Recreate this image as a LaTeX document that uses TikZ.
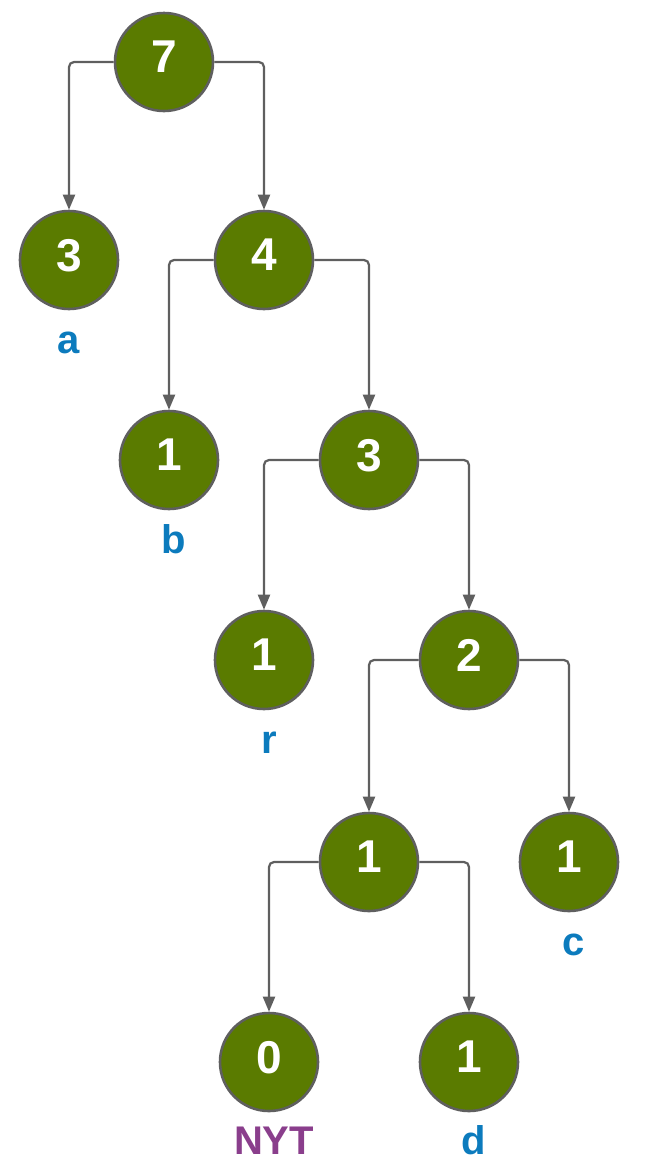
\documentclass[tikz,border=0pt]{standalone}
\usepackage{fontspec}
\setmainfont{Liberation Sans}
\usetikzlibrary{arrows.meta}
\definecolor{nodefill}{HTML}{5A7B00}
\definecolor{edgegray}{HTML}{5F5F5F}
\definecolor{symblue}{HTML}{0C7BBD}
\definecolor{nytpurple}{HTML}{8A3E8C}
\begin{document}
\begin{tikzpicture}[x=1pt,y=-1pt,
  tnode/.style={circle,draw=edgegray,line width=2.6pt,fill=nodefill,minimum size=98pt,inner sep=0pt,
    text=white,text depth=10pt,font=\fontsize{46}{46}\selectfont\bfseries},
  sym/.style={anchor=base,text=symblue,font=\fontsize{40}{40}\selectfont\bfseries,inner sep=0pt},
  nyt/.style={sym,text=nytpurple},
  link/.style={draw=edgegray,line width=2.2pt,rounded corners=5pt,-{Triangle[length=15pt,width=12pt]}}]
\useasboundingbox (0,0) rectangle (645,1171);
% tree nodes
\node[tnode] (r7) at (164,62) {7};
\node[tnode] (a3) at (69,260) {3};
\node[tnode] (i4) at (264,260) {4};
\node[tnode] (b1) at (169,460) {1};
\node[tnode] (i3) at (369,460) {3};
\node[tnode] (r1) at (264,660) {1};
\node[tnode] (i2) at (469,660) {2};
\node[tnode] (i1) at (369,862) {1};
\node[tnode] (c1) at (569,862) {1};
\node[tnode] (n0) at (269,1062) {0};
\node[tnode] (d1) at (469,1062) {1};
% symbol labels
\node[sym] (la) at (69,353) {a};
\node[sym] (lb) at (174,553) {b};
\node[sym] (lr) at (269,753) {r};
\node[sym] (lc) at (574,955) {c};
\node[nyt] (lnyt) at (274,1154) {NYT};
\node[sym] (ld) at (474,1154) {d};
% connectors
\draw[link] (r7.west) -| (a3.north);
\draw[link] (r7.east) -| (i4.north);
\draw[link] (i4.west) -| (b1.north);
\draw[link] (i4.east) -| (i3.north);
\draw[link] (i3.west) -| (r1.north);
\draw[link] (i3.east) -| (i2.north);
\draw[link] (i2.west) -| (i1.north);
\draw[link] (i2.east) -| (c1.north);
\draw[link] (i1.west) -| (n0.north);
\draw[link] (i1.east) -| (d1.north);
\end{tikzpicture}
\end{document}
